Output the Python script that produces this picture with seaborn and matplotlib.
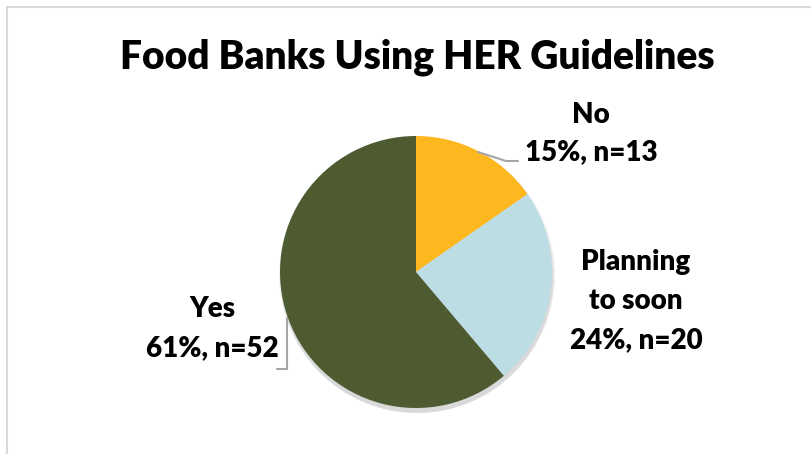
import matplotlib
matplotlib.use("Agg")
import matplotlib.pyplot as plt
import seaborn as sns
from matplotlib.patches import Circle

categories = ["No", "Planning to soon", "Yes"]
counts = [13, 20, 52]
percents = [15, 24, 61]
colors = ["#FDB71F", "#BDDDE4", "#4E5B31"]
title = "Food Banks Using HER Guidelines"

sns.set_theme(style="white")
plt.rcParams['font.family'] = ['Lato', 'DejaVu Sans']

W, H = 812, 454
fig = plt.figure(figsize=(W / 100, H / 100), dpi=100)
ax = fig.add_axes([0, 0, 1, 1])

cx, cy, r = 416, H - 272, 136

# soft shadow
for i in range(3):
    ax.add_patch(Circle((cx + 1, cy - 3 - i), r + 2 - i, color="black", alpha=0.05, lw=0, zorder=1))

wedges, _ = ax.pie(counts, colors=colors, startangle=90, counterclock=False,
                   center=(cx, cy), radius=r, frame=False,
                   wedgeprops=dict(linewidth=0, zorder=2))
ax.set_xlim(0, W)
ax.set_ylim(0, H)
ax.set_aspect('equal')
ax.axis('off')

fs = 20
fw = 'heavy'
def px(x, y):
    return x, H - y

ax.text(*px(591, 115), categories[0], ha='center', va='center', fontsize=fs, fontweight=fw, color='black')
ax.text(*px(591, 152), f"{percents[0]}%, n={counts[0]}", ha='center', va='center', fontsize=fs, fontweight=fw, color='black')

ax.text(*px(636, 301), "Planning\nto soon\n" + f"{percents[1]}%, n={counts[1]}", ha='center', va='center',
        fontsize=fs, fontweight=fw, color='black', linespacing=1.62)

ax.text(*px(212, 329), categories[2] + "\n" + f"{percents[2]}%, n={counts[2]}", ha='center', va='center',
        fontsize=fs, fontweight=fw, color='black', linespacing=1.62)

# leader lines
lc = "#A6A6A6"
ax.plot([478, 506, 518], [H - 152, H - 161, H - 161], color=lc, lw=1.5, zorder=3)
ax.plot([287, 287, 277], [H - 318, H - 369, H - 369], color=lc, lw=1.5, zorder=3)

fig.text(417 / W, 1 - 57 / H, title, ha='center', va='center', fontsize=28, fontweight=fw, color='black')

# chart border (partially visible)
bc = "#D9D9D9"
ax.plot([7, 7, W], [0, H - 7, H - 7], color=bc, lw=1.5, zorder=0)

fig.savefig("out.png", dpi=100, facecolor="white")
